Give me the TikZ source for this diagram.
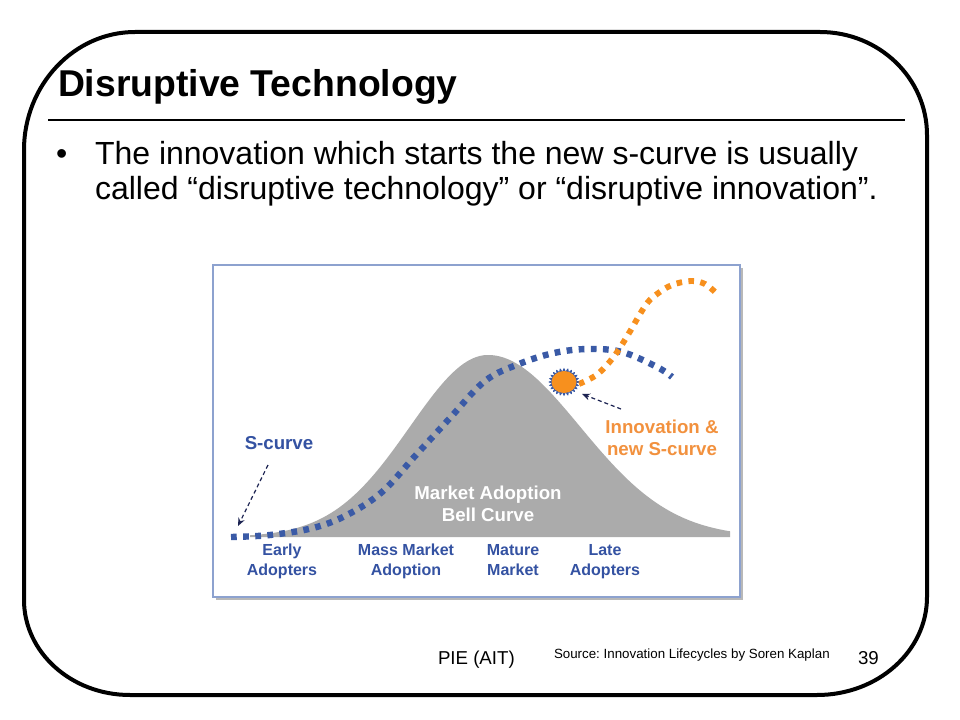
\documentclass[tikz,border=0pt]{standalone}
\usepackage{fontspec}
\setmainfont{Liberation Sans}
\usetikzlibrary{arrows.meta}
\definecolor{cblue}{HTML}{3A5AA6}
\definecolor{ctext}{HTML}{3452A2}
\definecolor{corange}{HTML}{F7901E}
\definecolor{corangetext}{HTML}{F2913E}
\definecolor{cgray}{HTML}{ABABAB}
\definecolor{cframe}{HTML}{8DA2CF}
\definecolor{cshadow}{HTML}{B8B8B8}
\definecolor{cnavy}{HTML}{1C2352}
\tikzset{
  txt/.style={inner sep=0pt, outer sep=0pt},
  chartbig/.style={txt, font=\fontsize{14}{16.8}\selectfont\bfseries, align=center, text depth=3pt},
  chartsmall/.style={txt, font=\fontsize{12}{15}\selectfont\bfseries, align=center, text=ctext, text depth=3pt},
  dotted blue/.style={cblue, line width=4.8pt, line cap=butt, dash pattern=on 4.3pt off 4.8pt},
  dotted orange/.style={corange, line width=4.4pt, line cap=butt, dash pattern=on 4.2pt off 4.8pt},
  pointer/.style={cnavy, line width=0.9pt, dash pattern=on 3pt off 2.2pt, -{Stealth[length=6pt,width=5pt]}},
}
\begin{document}
\frenchspacing
\begin{tikzpicture}[x=0.75pt, y=-0.75pt]
\useasboundingbox (0,0) rectangle (960,720);
\fill[white] (0,0) rectangle (960,720);

% slide frame
\draw[line width=3pt] (24,150) .. controls (24,85) and (74,32) .. (135,32) -- (820,32)
  .. controls (879,32) and (927,78) .. (927,135) -- (927,597)
  .. controls (927,651) and (878,695) .. (817,695) -- (130,695)
  .. controls (71,695) and (24,652) .. (24,600) -- cycle;

% title and rule
\node[txt, anchor=base west, font=\fontsize{28}{34}\selectfont\bfseries] (title) at (58,97) {Disruptive Technology};
\draw[line width=0.8pt] (48,120) -- (905,120);

% bullet text
\node[txt, anchor=base west, font=\fontsize{24}{29}\selectfont] (bullet) at (56,165) {•};
\node[txt, anchor=base west, font=\fontsize{24}{29}\selectfont] (line1) at (95,165) {The innovation which starts the new s-curve is usually};
\node[txt, anchor=base west, font=\fontsize{24}{29}\selectfont] (line2) at (95,200) {called “disruptive technology” or “disruptive innovation”.};

% chart frame
\fill[cshadow] (216,268) rectangle (743,600);
\draw[cframe, fill=white, line width=1.2pt] (213,265) rectangle (740,597);

% bell curve
\fill[cgray] (250,537) -- plot[domain=250:488, samples=60] (\x, {537 - 182*exp(-(((\x-488)/100)^2)/(2*0.78*0.78))})
  -- plot[domain=488:730, samples=60] (\x, {537 - 182*exp(-(((\x-488)/100)^2)/(2*0.92*0.92))}) -- (730,537) -- cycle;

% blue S-curve
\draw[dotted blue] plot[smooth, tension=0.6] coordinates {(231,537) (270,535) (313,528) (347,515) (382,492) (416,455) (450,418) (485,381) (519,364) (554,353) (588,349) (622,352) (657,367) (672,377)};

% orange new S-curve
\draw[dotted orange] plot[smooth, tension=0.6] coordinates {(579,384) (595,376) (606,366) (615,355) (623,343) (632,328) (640,314) (648,302) (657,294) (672,285) (691,281) (705,284) (716,293)};

% sun
\fill[cblue] plot[domain=0:360, samples=121] ({564+(14+1.6*cos(24*\x))*cos(\x)}, {382+(12.5+1.6*cos(24*\x))*sin(\x)}) -- cycle;
\fill[corange] (564,382) ellipse [x radius=12.5, y radius=11];
\coordinate (sun) at (582,394);

% labels in chart
\node[chartbig, text=ctext] (scurve) at (279,445) {S-curve};
\node[chartbig, text=corangetext] (innov) at (662,440) {Innovation \&\\new S-curve};
\node[chartbig, text=white] (market) at (488,506) {Market Adoption\\Bell Curve};
\node[chartsmall] (early) at (282,562) {Early\\Adopters};
\node[chartsmall] (mass) at (406,562) {Mass Market\\Adoption};
\node[chartsmall] (mature) at (513,562) {Mature\\Market};
\node[chartsmall] (late) at (605,562) {Late\\Adopters};

% pointers
\coordinate (sstart) at (268,465);
\coordinate (send) at (238,526);
\draw[pointer] (sstart) -- (send);
\coordinate (istart) at (621,409);
\draw[pointer] (istart) -- (sun);

% footer
\node[txt, anchor=base west, font=\fontsize{14}{17}\selectfont] (pie) at (438,664) {PIE (AIT)};
\node[txt, anchor=base west, font=\fontsize{10}{12}\selectfont] (source) at (554,658) {Source: Innovation Lifecycles by Soren Kaplan};
\node[txt, anchor=base west, font=\fontsize{14}{17}\selectfont] (page) at (858,664) {39};
\end{tikzpicture}
\end{document}
